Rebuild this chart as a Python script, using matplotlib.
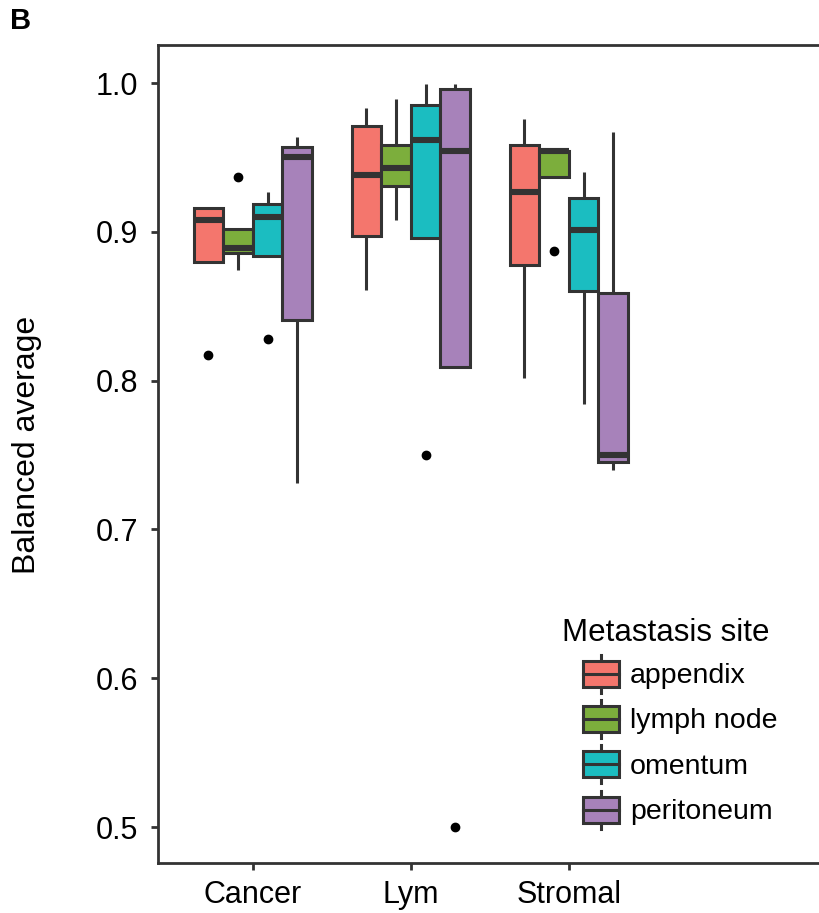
import matplotlib
matplotlib.use("Agg")
import matplotlib.pyplot as plt
from matplotlib.patches import Rectangle, Patch
from matplotlib.lines import Line2D
from matplotlib.legend_handler import HandlerBase

plt.rcParams['font.family'] = ['Liberation Sans', 'DejaVu Sans']

# cell types on x, metastasis sites as fill
cell_types = ['Cancer', 'Lym', 'Stromal']
sites = ['appendix', 'lymph node', 'omentum', 'peritoneum']
site_colors = ['#F4766D', '#7CAE3C', '#1BBDC1', '#A782BA']

# box stats: [whislo, q1, med, q3, whishi]
cancer = [
    [0.880, 0.880, 0.908, 0.916, 0.916],
    [0.874, 0.886, 0.889, 0.902, 0.902],
    [0.884, 0.884, 0.910, 0.919, 0.927],
    [0.731, 0.841, 0.950, 0.957, 0.964],
]
lym = [
    [0.861, 0.897, 0.938, 0.971, 0.983],
    [0.908, 0.931, 0.943, 0.958, 0.989],
    [0.896, 0.896, 0.962, 0.985, 0.999],
    [0.809, 0.809, 0.954, 0.996, 0.999],
]
stromal = [
    [0.802, 0.878, 0.927, 0.958, 0.976],
    [0.937, 0.937, 0.954, 0.954, 0.954],
    [0.784, 0.860, 0.901, 0.923, 0.940],
    [0.740, 0.745, 0.750, 0.859, 0.967],
]
# outliers per (cell type, site)
outliers = {
    (0, 0): [0.817],
    (0, 1): [0.937],
    (0, 2): [0.828],
    (1, 2): [0.750],
    (1, 3): [0.500],
    (2, 1): [0.887],
}

groups = [cancer, lym, stromal]
edge = '#333333'
dodge = 0.75
bw = dodge / len(sites)

fig = plt.figure(figsize=(8.2, 9.13), dpi=100)
ax = fig.add_axes([158 / 820, 1 - 863 / 913, 1 - 158 / 820, (863 - 45) / 913])

for gi, grp in enumerate(groups):
    for si, st in enumerate(grp):
        x = gi + 1 - dodge / 2 + bw * (si + 0.5)
        lo, q1, med, q3, hi = st
        ax.plot([x, x], [hi, q3], color=edge, lw=2.2, solid_capstyle='butt', zorder=1)
        ax.plot([x, x], [q1, lo], color=edge, lw=2.2, solid_capstyle='butt', zorder=1)
        ax.add_patch(Rectangle((x - bw / 2, q1), bw, q3 - q1, facecolor=site_colors[si],
                               edgecolor=edge, lw=2.2, zorder=2))
        ax.plot([x - bw / 2, x + bw / 2], [med, med], color=edge, lw=4.4,
                solid_capstyle='butt', zorder=3)
        for o in outliers.get((gi, si), []):
            ax.plot(x, o, 'o', color='black', ms=6, zorder=4)

ax.set_xlim(0.4, 0.4 + (820 - 158) / 158)
ax.set_ylim(0.5 - (863 - 827) / 1488, 1.0 + (83 - 45) / 1488)
ax.set_xticks([1, 2, 3])
ax.set_xticklabels(cell_types)
ax.set_yticks([0.5, 0.6, 0.7, 0.8, 0.9, 1.0])
ax.set_yticklabels(['0.5', '0.6', '0.7', '0.8', '0.9', '1.0'])
ax.tick_params(labelsize=22, length=5, width=2, color=edge, labelcolor='black', pad=9)
ax.tick_params(axis='x', pad=7)
for s in ['left', 'bottom', 'top']:
    ax.spines[s].set_color(edge)
    ax.spines[s].set_linewidth(2)
ax.spines['right'].set_visible(False)
ax.set_ylabel('Balanced average', fontsize=23)
ax.yaxis.set_label_coords(-116 / 662, 0.511)

fig.text(0.012, 0.977, 'B', fontsize=21, fontweight='bold', va='center', ha='left')


class BoxHandler(HandlerBase):
    def create_artists(self, legend, orig_handle, xdescent, ydescent, width, height,
                       fontsize, trans):
        cx = width / 2 - xdescent
        b0 = -ydescent + height * 0.16
        b1 = -ydescent + height * 0.84
        mid = -ydescent + height / 2
        art = [
            Line2D([cx, cx], [-ydescent, b0], color=edge, lw=2.2),
            Line2D([cx, cx], [b1, height - ydescent], color=edge, lw=2.2),
            Rectangle((-xdescent, b0), width, b1 - b0, facecolor=orig_handle.get_facecolor(),
                      edgecolor=edge, lw=2.2),
            Line2D([-xdescent, width - xdescent], [mid, mid], color=edge, lw=2.2),
        ]
        for a in art:
            a.set_transform(trans)
        return art


fig.text(562 / 820, 1 - 633 / 913, 'Metastasis site', fontsize=22.5,
         ha='left', va='center')

handles = [Patch(facecolor=c) for c in site_colors]
leg = ax.legend(handles, sites, handler_map={Patch: BoxHandler()},
                fontsize=20.5, loc='upper left',
                bbox_to_anchor=(583 / 820, 1 - 655 / 913),
                bbox_transform=fig.transFigure, frameon=False,
                handlelength=1.25, handleheight=1.68, labelspacing=0.25,
                handletextpad=0.4, borderpad=0.0, borderaxespad=0.0)

fig.savefig('out.png', dpi=100)
